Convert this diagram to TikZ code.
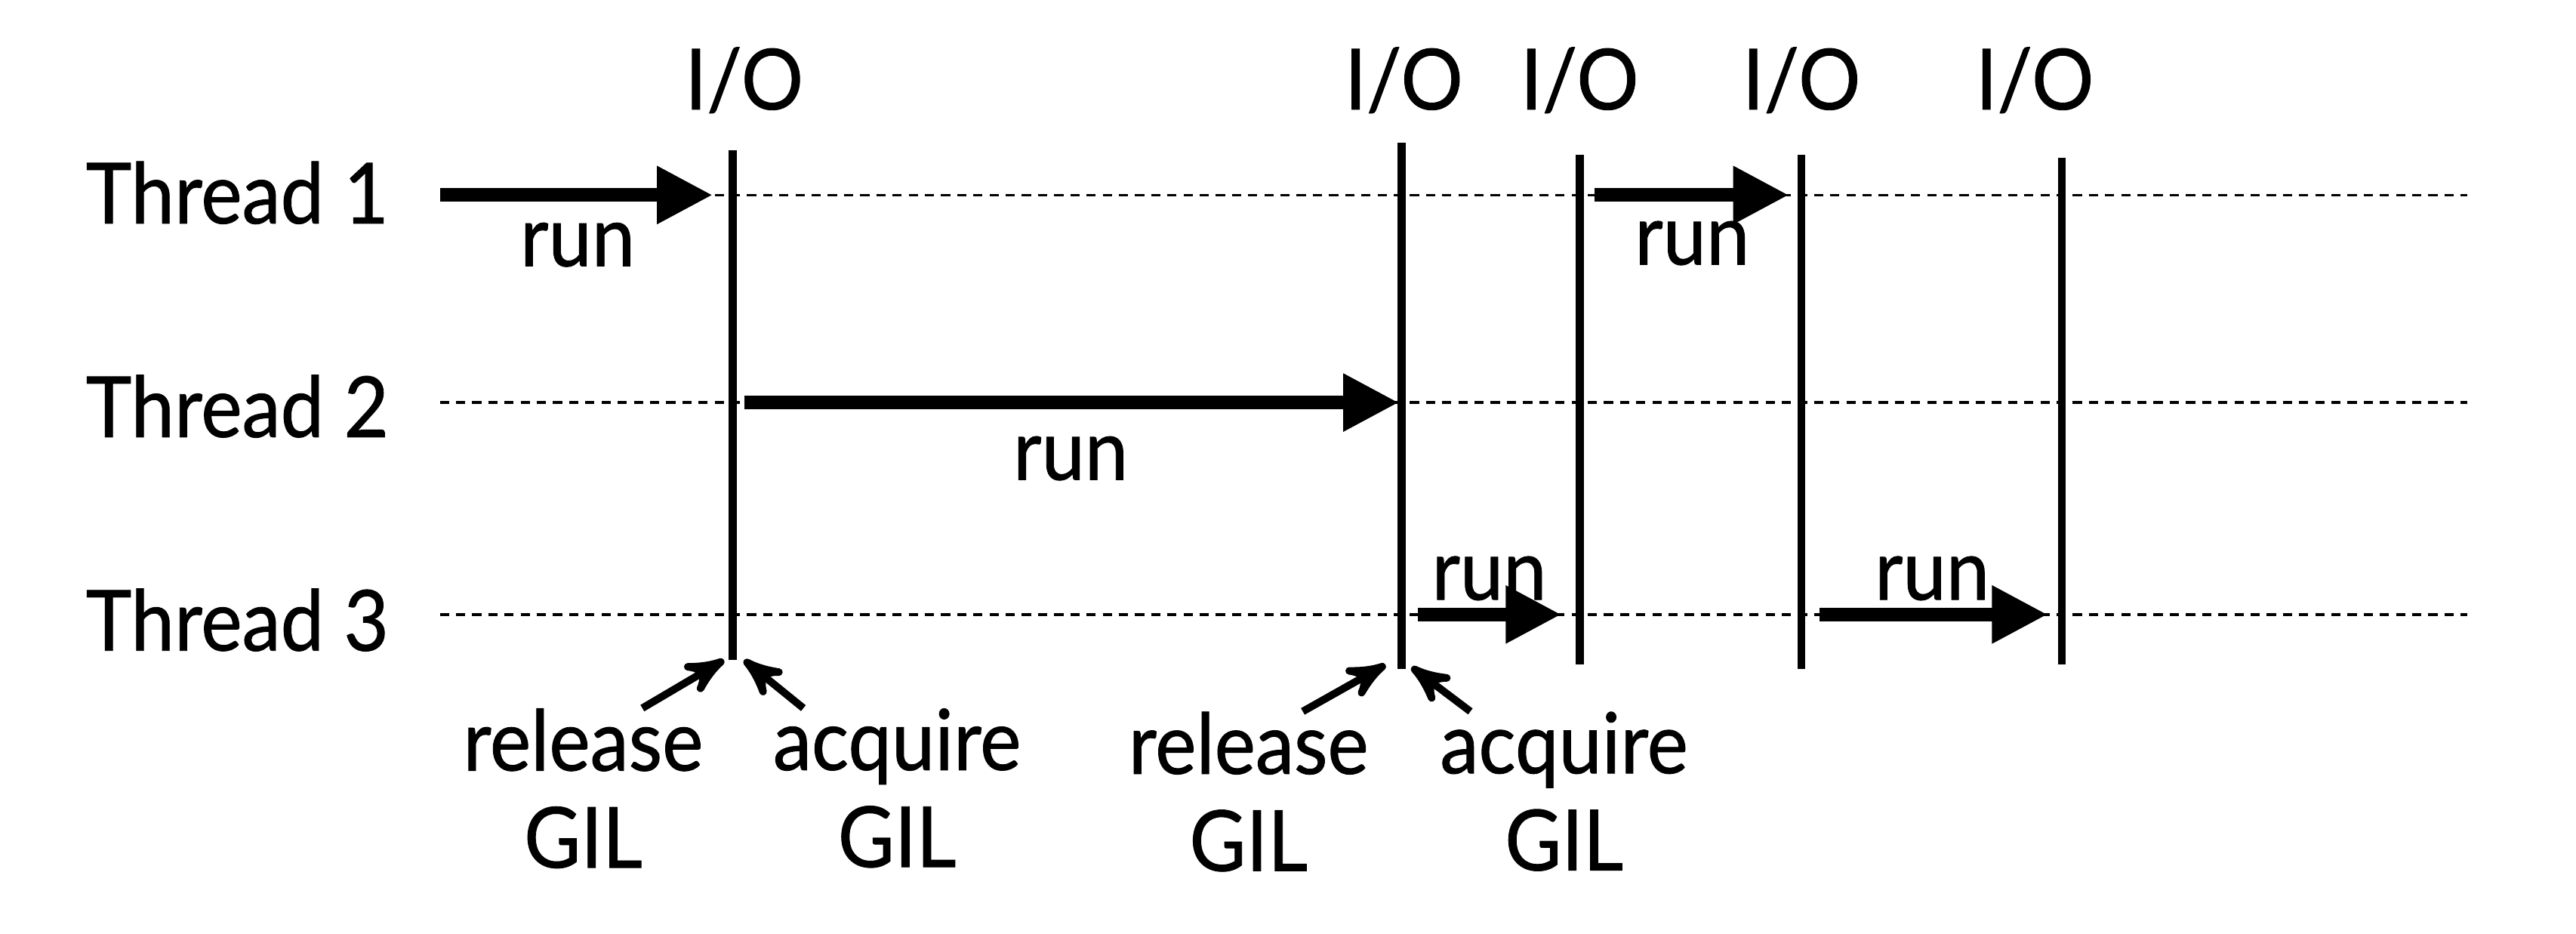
\documentclass[tikz,border=0pt]{standalone}
\usepackage{fontspec}
\setmainfont[FakeStretch=0.92,FakeBold=0.8]{Lato}
\usetikzlibrary{arrows}
\usetikzlibrary{arrows.meta}
\usetikzlibrary{positioning}

\begin{document}
\begin{tikzpicture}[>=stealth', auto,
    every node/.style={font=\fontsize{14.6}{16.8}\selectfont, inner sep=1pt},
    thread/.style={anchor=base west, inner sep=0pt},
    io/.style={anchor=base},
    lane/.style={dash pattern=on 1.6pt off 1.2pt, line width=0.45pt},
    cut/.style={line width=1.4pt},
    run/.style={-{Triangle[length=0.34cm,width=0.33cm]}, line width=2.4pt},
    gil/.style={->, line width=1.3pt},
    lbl/.style={anchor=base},
    note/.style={align=center, anchor=north}]
  \useasboundingbox (0,0) rectangle (15.68,5.68);

  % thread rows
  \node[thread] (T1) at (0.516,4.32) {Thread 1};
  \node[thread] (T2) at (0.516,3.02) {Thread 2};
  \node[thread] (T3) at (0.516,1.72) {Thread 3};
  \foreach \n/\y in {1/4.493, 2/3.23, 3/1.94} {
    \coordinate (s\n) at (2.677,\y);
    \coordinate (e\n) at (15.02,\y);
    \draw[lane] (s\n) -- (e\n);
  }

  % I/O cuts
  \foreach \n/\x/\t/\b/\c in {1/4.46/4.765/1.663/4.53, 2/8.53/4.81/1.61/8.545,
      3/9.615/4.74/1.635/9.615, 4/10.965/4.74/1.61/10.965, 5/12.55/4.72/1.635/12.385} {
    \coordinate (L\n t) at (\x,\t);
    \coordinate (L\n b) at (\x,\b);
    \draw[cut] (L\n t) -- (L\n b);
    \node[io] (io\n) at (\c,5.014) {I/O};
  }

  % running intervals
  \coordinate (r1s) at (2.677,4.493);  \coordinate (r1e) at (4.339,4.493);
  \coordinate (r2s) at (9.705,4.493);  \coordinate (r2e) at (10.89,4.493);
  \coordinate (r3s) at (4.53,3.23);    \coordinate (r3e) at (8.516,3.23);
  \coordinate (r4s) at (8.63,1.94);    \coordinate (r4e) at (9.505,1.94);
  \coordinate (r5s) at (11.075,1.94);  \coordinate (r5e) at (12.465,1.94);
  \foreach \n in {1,...,5}
    \draw[run] (r\n s) -- (r\n e);
  \node[lbl] (run1) at (3.516,4.06) {run};
  \node[lbl] (run2) at (10.30,4.07) {run};
  \node[lbl] (run3) at (6.517,2.76) {run};
  \node[lbl] (run4) at (9.065,2.03) {run};
  \node[lbl] (run5) at (11.76,2.03) {run};

  % GIL hand-over
  \node[note] (rel1) at (3.55,1.41) {release\\GIL};
  \node[note] (acq1) at (5.46,1.41) {acquire\\GIL};
  \node[note] (rel2) at (7.60,1.39) {release\\GIL};
  \node[note] (acq2) at (9.52,1.39) {acquire\\GIL};
  \draw[gil] ([xshift=0.36cm,yshift=-0.04cm]rel1.north) -- ([xshift=-0.053cm]L1b);
  \draw[gil] ([xshift=-0.57cm,yshift=-0.04cm]acq1.north) -- ([xshift=0.069cm]L1b);
  \draw[gil] ([xshift=0.33cm,yshift=-0.04cm]rel2.north) -- ([xshift=-0.096cm,yshift=0.024cm]L2b);
  \draw[gil] ([xshift=-0.57cm,yshift=-0.04cm]acq2.north) -- ([xshift=0.062cm,yshift=0.01cm]L2b);
\end{tikzpicture}
\end{document}
